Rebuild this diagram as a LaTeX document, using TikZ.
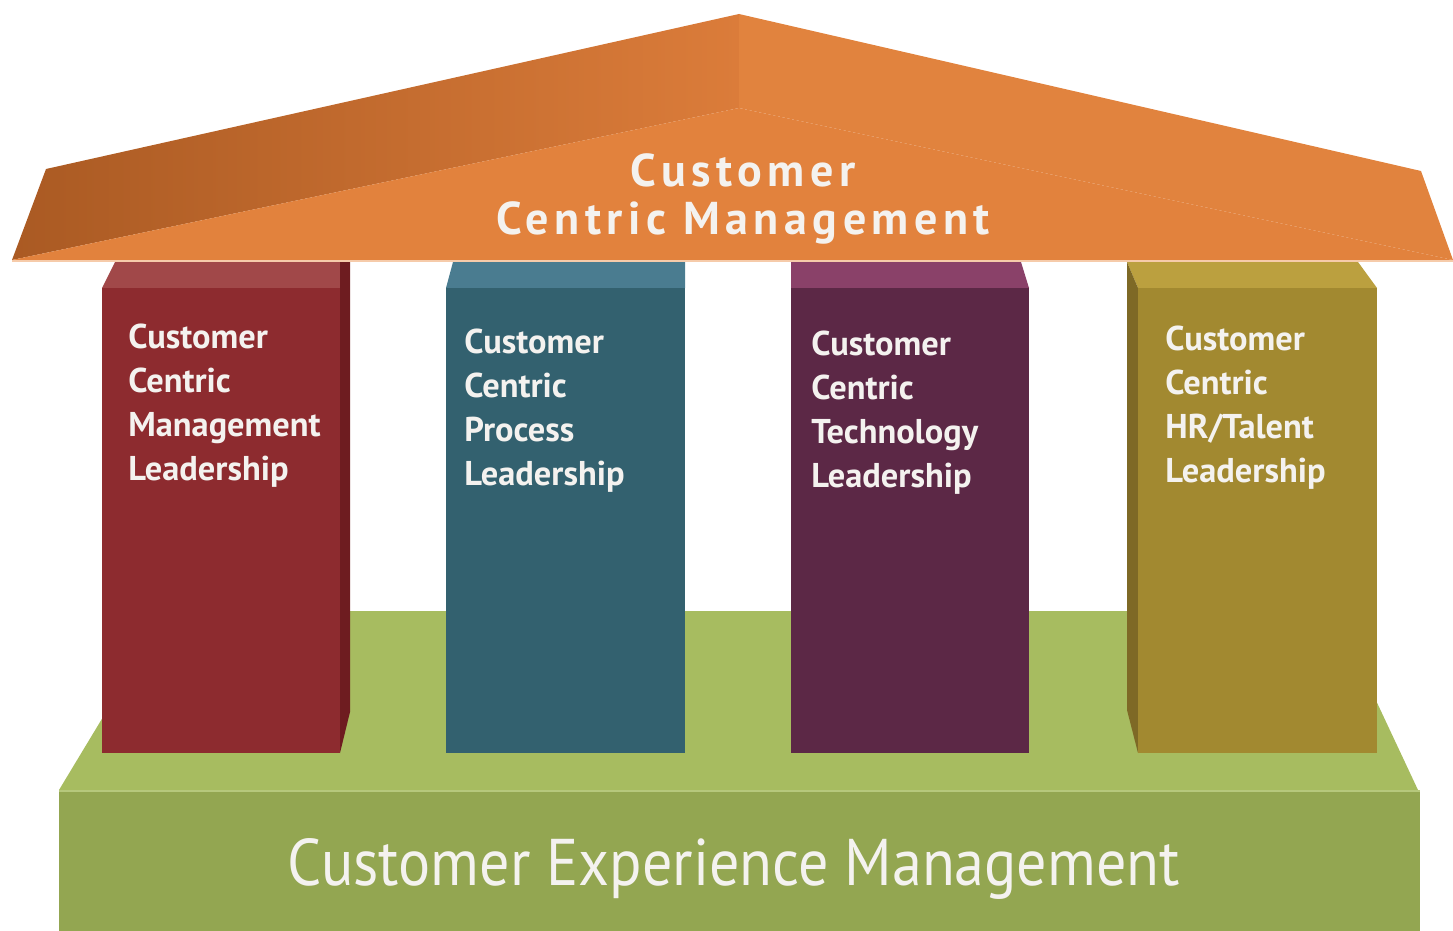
\documentclass[tikz,border=0pt]{standalone}
\usepackage{fontspec}
\usepackage{graphicx}
\newfontfamily\pillarfont{PT Sans}
\newfontfamily\rooffont[LetterSpace=12]{PT Sans}
\newfontfamily\basefont[FakeStretch=0.91]{PT Sans}

\definecolor{roofFront}{HTML}{E2823D}
\definecolor{roofLeftDark}{HTML}{AA5A23}
\definecolor{roofLeftLight}{HTML}{DB7C3A}
\definecolor{roofRight}{HTML}{E1833E}
\definecolor{roofEdge}{HTML}{F6CBAA}
\definecolor{redTop}{HTML}{A14849}
\definecolor{redFront}{HTML}{8D2B2F}
\definecolor{redSide}{HTML}{6E1C20}
\definecolor{blueTop}{HTML}{4A7C90}
\definecolor{blueFront}{HTML}{33616F}
\definecolor{purpleTop}{HTML}{8A4169}
\definecolor{purpleFront}{HTML}{5C2846}
\definecolor{goldTop}{HTML}{BBA03F}
\definecolor{goldFront}{HTML}{A28930}
\definecolor{goldSide}{HTML}{7E6926}
\definecolor{greenTop}{HTML}{A7BC60}
\definecolor{greenFront}{HTML}{93A651}
\definecolor{greenEdge}{HTML}{B6C87C}
\definecolor{labelWhite}{HTML}{F4F2EF}

\tikzstyle{pillartext} = [
        anchor=north west,
        inner sep=0pt,
        align=left,
        text=labelWhite,
        font=\pillarfont\bfseries\fontsize{17.2}{22}\selectfont,
    ]
\tikzstyle{rooftext} = [
        anchor=north,
        inner sep=0pt,
        align=center,
        text=labelWhite,
        font=\rooffont\bfseries\fontsize{23}{24}\selectfont,
    ]
\tikzstyle{basetext} = [
        anchor=base,
        inner sep=0pt,
        text=labelWhite,
        font=\basefont\fontsize{33}{36}\selectfont,
    ]

\begin{document}
\begin{tikzpicture}[x=0.5pt,y=-0.5pt]
    \useasboundingbox (0,0) rectangle (1453,931);
    % base, top face
    \fill [greenTop] (59,790) -- (167,611) -- (1334,611) -- (1418,790) -- cycle;
    % pillars
    \fill [redTop] (115,262) -- (340,262) -- (340,288) -- (102,288) -- cycle;
    \fill [redFront] (102,288) rectangle (340,753);
    \fill [redSide] (340,262) -- (350,262) -- (350,712) -- (340,753) -- cycle;
    \fill [blueTop] (453,262) -- (685,262) -- (685,288) -- (446,288) -- cycle;
    \fill [blueFront] (446,288) rectangle (685,753);
    \fill [purpleTop] (791,262) -- (1021,262) -- (1029,288) -- (791,288) -- cycle;
    \fill [purpleFront] (791,288) rectangle (1029,753);
    \fill [goldTop] (1127,262) -- (1358,262) -- (1377,288) -- (1138,288) -- cycle;
    \fill [goldSide] (1127,262) -- (1138,288) -- (1138,753) -- (1127,710) -- cycle;
    \fill [goldFront] (1138,288) rectangle (1377,753);
    % base, front face
    \fill [greenFront] (59,791) rectangle (1420,931);
    \draw [greenEdge, line width=1pt] (59,791) -- (1420,791);
    % roof
    \shade [left color=roofLeftDark, right color=roofLeftLight]
        (12,260) -- (46,169) -- (739,14) -- (739,108) -- cycle;
    \fill [roofRight] (739,14) -- (1421,171) -- (1453,260) -- (739,108) -- cycle;
    \fill [roofFront] (12,260) -- (739,108) -- (1453,260) -- cycle;
    \draw [roofEdge, line width=1pt] (12,261.5) -- (1453,261.5);
    % labels
    \node [rooftext] (roofLabel) at (743,153) {Customer\\Centric Management};
    \node [pillartext] (mgmtLabel) at (128,324) {Customer\\Centric\\Management\\Leadership};
    \node [pillartext] (procLabel) at (464,329) {Customer\\Centric\\Process\\Leadership};
    \node [pillartext] (techLabel) at (811,331) {Customer\\Centric\\Technology\\Leadership};
    \node [pillartext] (talentLabel) at (1165,326) {Customer\\Centric\\HR/Talent\\Leadership};
    \node [basetext] (baseLabel) at (734,885) {Customer Experience Management};
\end{tikzpicture}
\end{document}
